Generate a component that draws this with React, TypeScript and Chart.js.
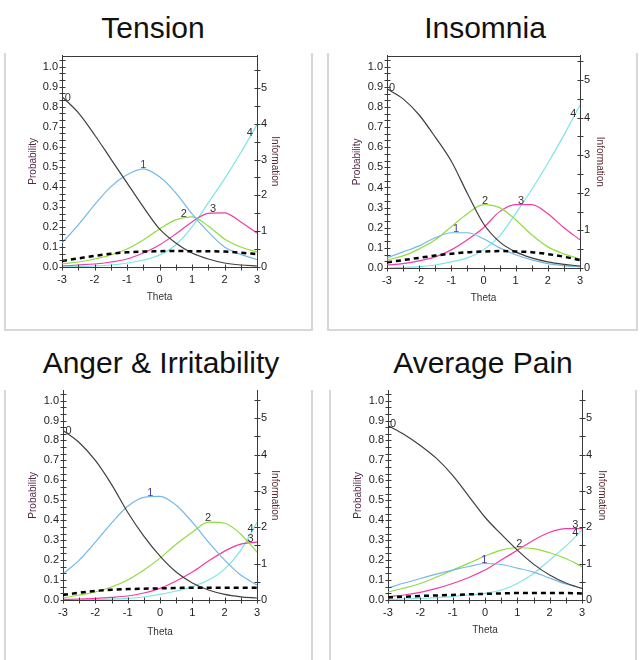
import React, { useEffect, useRef } from 'react';
import { Chart, registerables } from 'chart.js';

Chart.register(...registerables);

const FONT = '"Liberation Sans", Arial, Helvetica, sans-serif';

// ---------- data ----------
const theta = [-3, -2.5, -2, -1.5, -1, -0.5, 0, 0.5, 1, 1.5, 2, 2.5, 3];

// Tension
const tensionCat0 = [0.85, 0.77, 0.66, 0.54, 0.42, 0.30, 0.19, 0.12, 0.07, 0.04, 0.02, 0.01, 0.005];
const tensionCat1 = [0.12, 0.21, 0.31, 0.40, 0.46, 0.49, 0.45, 0.37, 0.265, 0.175, 0.10, 0.063, 0.037];
const tensionCat2 = [0.015, 0.025, 0.04, 0.06, 0.09, 0.135, 0.19, 0.235, 0.25, 0.205, 0.14, 0.10, 0.075];
const tensionCat3 = [0.005, 0.01, 0.015, 0.025, 0.04, 0.07, 0.11, 0.165, 0.225, 0.268, 0.27, 0.225, 0.17];
const tensionCat4 = [0.0, 0.002, 0.005, 0.01, 0.02, 0.035, 0.06, 0.11, 0.20, 0.32, 0.44, 0.57, 0.71];
const tensionInfo = [0.17, 0.24, 0.31, 0.37, 0.41, 0.43, 0.44, 0.45, 0.44, 0.44, 0.43, 0.40, 0.36];
const tensionLabelTheta = [-2.82, -0.5, 0.75, 1.65, 2.78];

// Insomnia
const insomniaCat0 = [0.89, 0.84, 0.76, 0.65, 0.53, 0.37, 0.22, 0.13, 0.08, 0.05, 0.03, 0.018, 0.01];
const insomniaCat1 = [0.05, 0.08, 0.11, 0.15, 0.175, 0.175, 0.145, 0.10, 0.066, 0.04, 0.022, 0.012, 0.006];
const insomniaCat2 = [0.04, 0.06, 0.095, 0.14, 0.205, 0.27, 0.315, 0.30, 0.24, 0.165, 0.105, 0.07, 0.045];
const insomniaCat3 = [0.015, 0.022, 0.035, 0.055, 0.09, 0.14, 0.20, 0.28, 0.315, 0.315, 0.27, 0.20, 0.14];
const insomniaCat4 = [0.0, 0.003, 0.007, 0.015, 0.03, 0.05, 0.09, 0.16, 0.27, 0.39, 0.52, 0.66, 0.81];
const insomniaInfo = [0.15, 0.21, 0.27, 0.33, 0.38, 0.42, 0.44, 0.45, 0.44, 0.42, 0.37, 0.30, 0.21];
const insomniaLabelTheta = [-2.84, -0.85, 0.05, 1.17, 2.79];

// Anger & Irritability
const angerCat0 = [0.85, 0.79, 0.70, 0.58, 0.44, 0.32, 0.22, 0.14, 0.085, 0.05, 0.028, 0.016, 0.01];
const angerCat1 = [0.13, 0.20, 0.29, 0.385, 0.47, 0.515, 0.52, 0.475, 0.39, 0.29, 0.20, 0.125, 0.075];
const angerCat2 = [0.01, 0.025, 0.04, 0.065, 0.10, 0.15, 0.21, 0.28, 0.34, 0.39, 0.385, 0.33, 0.24];
const angerCat3 = [0.003, 0.005, 0.008, 0.013, 0.02, 0.035, 0.058, 0.095, 0.14, 0.195, 0.245, 0.28, 0.29];
const angerCat4 = [0.0, 0.001, 0.002, 0.004, 0.008, 0.015, 0.028, 0.045, 0.067, 0.10, 0.155, 0.25, 0.39];
const angerInfo = [0.14, 0.20, 0.25, 0.28, 0.30, 0.31, 0.32, 0.33, 0.34, 0.34, 0.34, 0.34, 0.34];
const angerLabelTheta = [-2.83, -0.3, 1.49, 2.8, 2.8];

// Average Pain
const painCat0 = [0.875, 0.83, 0.775, 0.71, 0.625, 0.52, 0.415, 0.33, 0.25, 0.18, 0.125, 0.085, 0.058];
const painCat1 = [0.06, 0.085, 0.108, 0.13, 0.15, 0.168, 0.183, 0.178, 0.16, 0.14, 0.11, 0.08, 0.058];
const painCat2 = [0.04, 0.06, 0.083, 0.115, 0.15, 0.185, 0.22, 0.25, 0.262, 0.258, 0.237, 0.208, 0.167];
const painCat3 = [0.017, 0.025, 0.038, 0.058, 0.083, 0.113, 0.15, 0.20, 0.25, 0.30, 0.34, 0.358, 0.358];
const painCat4 = [0.003, 0.005, 0.008, 0.012, 0.018, 0.025, 0.033, 0.05, 0.083, 0.133, 0.20, 0.27, 0.35];
const painInfo = [0.07, 0.09, 0.11, 0.125, 0.14, 0.155, 0.17, 0.18, 0.19, 0.19, 0.19, 0.19, 0.18];
const painLabelTheta = [-2.84, -0.02, 1.06, 2.79, 2.79];

const categoryNames = ['0', '1', '2', '3', '4'];
const panelTitles = ['Tension', 'Insomnia', 'Anger & Irritability', 'Average Pain'];
const infoMaxima = [5.9, 5.65, 5.76, 5.76];
const probMaxima = [1.055, 1.055, 1.05, 1.05];

// ---------- styles ----------
const CAT_COLORS = ['#404040', '#72b9ea', '#90dd3e', '#ef3ca7', '#7ce6e6'];
const LABEL_COLORS = ['#333333', '#4a3c96', '#333333', '#333333', '#333333'];
const AXIS = '#3a3a3a';
const FRAME = '#d4d8d8';
const TICK_TEXT = '#222222';

type Rect = { l: number; r: number; t: number; b: number };
type PanelSpec = {
  title: string;
  titleX: number;
  titleBase: number;
  cats: number[][];
  info: number[];
  labelTheta: number[];
  infoMax: number;
  probMax: number;
  frame: Rect;
  plot: Rect;
  probTitleX: number;
  infoTitleX: number;
  thetaY: number;
  topLine: boolean;
};

const panels: PanelSpec[] = [
  {
    title: panelTitles[0], titleX: 153, titleBase: 38,
    cats: [tensionCat0, tensionCat1, tensionCat2, tensionCat3, tensionCat4], info: tensionInfo,
    labelTheta: tensionLabelTheta, infoMax: infoMaxima[0], probMax: probMaxima[0],
    frame: { l: 4, r: 313, t: 53, b: 331 }, plot: { l: 62, r: 257, t: 55, b: 267 },
    probTitleX: 33, infoTitleX: 275, thetaY: 297, topLine: true,
  },
  {
    title: panelTitles[1], titleX: 485, titleBase: 38,
    cats: [insomniaCat0, insomniaCat1, insomniaCat2, insomniaCat3, insomniaCat4], info: insomniaInfo,
    labelTheta: insomniaLabelTheta, infoMax: infoMaxima[1], probMax: probMaxima[1],
    frame: { l: 327, r: 638, t: 53, b: 331 }, plot: { l: 387, r: 580, t: 55, b: 268 },
    probTitleX: 357, infoTitleX: 600, thetaY: 298, topLine: true,
  },
  {
    title: panelTitles[2], titleX: 161, titleBase: 373,
    cats: [angerCat0, angerCat1, angerCat2, angerCat3, angerCat4], info: angerInfo,
    labelTheta: angerLabelTheta, infoMax: infoMaxima[2], probMax: probMaxima[2],
    frame: { l: 4, r: 313, t: 390, b: 700 }, plot: { l: 63, r: 257, t: 390, b: 600 },
    probTitleX: 33, infoTitleX: 275, thetaY: 632, topLine: false,
  },
  {
    title: panelTitles[3], titleX: 483, titleBase: 373,
    cats: [painCat0, painCat1, painCat2, painCat3, painCat4], info: painInfo,
    labelTheta: painLabelTheta, infoMax: infoMaxima[3], probMax: probMaxima[3],
    frame: { l: 329, r: 637, t: 390, b: 700 }, plot: { l: 388, r: 582, t: 390, b: 600 },
    probTitleX: 358, infoTitleX: 602, thetaY: 630, topLine: false,
  },
];

function interp(xs: number[], ys: number[], x: number) {
  for (let i = 0; i < xs.length - 1; i++) {
    if (x >= xs[i] && x <= xs[i + 1]) {
      const f = (x - xs[i]) / (xs[i + 1] - xs[i]);
      return ys[i] + f * (ys[i + 1] - ys[i]);
    }
  }
  return x < xs[0] ? ys[0] : ys[ys.length - 1];
}

const irtPlugin = {
  id: 'irtDecor',
  afterDraw(chart: any, _args: any, opts: any) {
    const ctx = chart.ctx as CanvasRenderingContext2D;
    const { left, right, top, bottom } = chart.chartArea;
    const xs = chart.scales.x;
    const yl = chart.scales.y;
    const yr = chart.scales.info;
    const L = 3;
    ctx.save();
    ctx.strokeStyle = AXIS;
    ctx.lineWidth = 1;
    ctx.beginPath();
    const bx = Math.round(bottom) + 0.5;
    for (const t of xs.ticks) {
      const px = Math.round(xs.getPixelForValue(t.value)) + 0.5;
      ctx.moveTo(px, bx - L);
      ctx.lineTo(px, bx + L);
    }
    const lx = Math.round(left) + 0.5;
    for (const t of yl.ticks) {
      const py = Math.round(yl.getPixelForValue(t.value)) + 0.5;
      ctx.moveTo(lx - L, py);
      ctx.lineTo(lx + L, py);
    }
    const rx = Math.round(right) + 0.5;
    for (const t of yr.ticks) {
      const py = Math.round(yr.getPixelForValue(t.value)) + 0.5;
      ctx.moveTo(rx - L, py);
      ctx.lineTo(rx + L, py);
    }
    if (opts.topLine) {
      const ty = Math.round(top) + 0.5;
      ctx.moveTo(lx, ty);
      ctx.lineTo(rx, ty);
    }
    ctx.stroke();

    ctx.font = `11px ${FONT}`;
    ctx.textAlign = 'center';
    ctx.textBaseline = 'middle';
    const labs: { text: string; cat: number; th: number }[] = opts.labels;
    for (const lb of labs) {
      const v = interp(theta, opts.cats[lb.cat], lb.th);
      const px = xs.getPixelForValue(lb.th);
      const py = yl.getPixelForValue(v) - 4;
      ctx.fillStyle = LABEL_COLORS[lb.cat];
      ctx.fillText(lb.text, px, py);
    }
    ctx.restore();
  },
};

function Panel({ p }: { p: PanelSpec }) {
  const ref = useRef<HTMLCanvasElement>(null);
  const cv = { l: p.frame.l + 2, r: p.frame.r - 2, t: p.plot.t - 10, b: Math.min(p.frame.b - 2, 660) };
  const W = cv.r - cv.l;
  const H = cv.b - cv.t;

  useEffect(() => {
    const leftW = p.plot.l - cv.l;
    const rightW = cv.r - p.plot.r;
    const xH = cv.b - p.plot.b;
    const padTop = p.plot.t - cv.t;
    const titleHalf = 6;

    const xTicks: number[] = [];
    for (let k = -6; k <= 6; k++) xTicks.push(k / 2);
    const yTicks: number[] = [];
    for (let k = 0; k <= Math.floor(p.probMax * 30 + 1e-9); k++) yTicks.push(k / 30);
    const infoTicks: number[] = [];
    for (let k = 0; k <= Math.floor(p.infoMax * 2 + 1e-9); k++) infoTicks.push(k / 2);

    const datasets: any[] = [
      {
        label: 'Information',
        data: theta.map((t, i) => ({ x: t, y: p.info[i] })),
        yAxisID: 'info',
        borderColor: '#000000',
        borderWidth: 2.5,
        borderDash: [5, 4],
        cubicInterpolationMode: 'monotone',
        pointRadius: 0,
        fill: false,
      },
      ...p.cats.map((vals, ci) => ({
        label: categoryNames[ci],
        data: theta.map((t, i) => ({ x: t, y: vals[i] })),
        yAxisID: 'y',
        borderColor: CAT_COLORS[ci],
        borderWidth: 1.2,
        cubicInterpolationMode: 'monotone',
        pointRadius: 0,
        fill: false,
      })),
    ];

    const tickFont = { family: FONT, size: 11 };
    const titleFont = { family: FONT, size: 10 };

    const chart = new Chart(ref.current as HTMLCanvasElement, {
      type: 'line',
      data: { datasets },
      plugins: [irtPlugin as any],
      options: {
        responsive: false,
        animation: false,
        devicePixelRatio: 1,
        events: [],
        layout: { padding: { top: padTop, left: 0, right: 0, bottom: 0 } },
        plugins: {
          legend: { display: false },
          tooltip: { enabled: false },
          irtDecor: {
            topLine: p.topLine,
            cats: p.cats,
            labels: categoryNames.map((n, ci) => ({ text: n, cat: ci, th: p.labelTheta[ci] })),
          },
        } as any,
        scales: {
          x: {
            type: 'linear',
            position: 'bottom',
            min: -3,
            max: 3,
            afterBuildTicks: (s: any) => { s.ticks = xTicks.map((v) => ({ value: v })); },
            afterFit: (s: any) => { s.height = xH; },
            grid: { display: false, drawTicks: false },
            border: { display: true, color: AXIS, width: 1 },
            ticks: {
              autoSkip: false,
              maxRotation: 0,
              padding: 6,
              color: TICK_TEXT,
              font: tickFont,
              callback: (v: any) => (Math.abs(v - Math.round(v)) < 1e-6 ? String(Math.round(v)) : ''),
            },
            title: {
              display: true,
              text: 'Theta',
              color: '#333333',
              font: titleFont,
              padding: { top: 0, bottom: cv.b - p.thetaY - titleHalf },
            },
          },
          y: {
            type: 'linear',
            position: 'left',
            min: 0,
            max: p.probMax,
            afterBuildTicks: (s: any) => { s.ticks = yTicks.map((v) => ({ value: v })); },
            afterFit: (s: any) => { s.width = leftW; },
            grid: { display: false, drawTicks: false },
            border: { display: true, color: AXIS, width: 1 },
            ticks: {
              autoSkip: false,
              padding: 4,
              color: TICK_TEXT,
              font: tickFont,
              callback: (v: any) => (Math.abs(v * 10 - Math.round(v * 10)) < 1e-6 ? (Math.round(v * 10) / 10).toFixed(1) : ''),
            },
            title: {
              display: true,
              text: 'Probability',
              color: '#52284a',
              font: titleFont,
              padding: { top: p.probTitleX - cv.l - titleHalf, bottom: 0 },
            },
          },
          info: {
            type: 'linear',
            position: 'right',
            min: 0,
            max: p.infoMax,
            afterBuildTicks: (s: any) => { s.ticks = infoTicks.map((v) => ({ value: v })); },
            afterFit: (s: any) => { s.width = rightW; },
            grid: { display: false, drawTicks: false },
            border: { display: true, color: AXIS, width: 1 },
            ticks: {
              autoSkip: false,
              padding: 4,
              color: TICK_TEXT,
              font: tickFont,
              callback: (v: any) => (Math.abs(v - Math.round(v)) < 1e-6 ? String(Math.round(v)) : ''),
            },
            title: {
              display: true,
              text: 'Information',
              color: '#552830',
              font: titleFont,
              padding: { top: cv.r - p.infoTitleX - titleHalf, bottom: 0 },
            },
          },
        },
      } as any,
    });
    return () => chart.destroy();
  }, []);

  return (
    <>
      <div
        style={{
          position: 'absolute',
          left: p.frame.l,
          top: p.frame.t,
          width: p.frame.r - p.frame.l,
          height: p.frame.b - p.frame.t,
          boxSizing: 'border-box',
          borderLeft: `2px solid ${FRAME}`,
          borderRight: `2px solid ${FRAME}`,
          borderBottom: `2px solid ${FRAME}`,
        }}
      />
      <div
        style={{
          position: 'absolute',
          left: p.titleX - 200,
          width: 400,
          top: p.titleBase - 25.4,
          textAlign: 'center',
          fontFamily: FONT,
          fontSize: 30,
          lineHeight: '30px',
          color: '#111111',
          whiteSpace: 'nowrap',
        }}
      >
        {p.title}
      </div>
      <canvas
        ref={ref}
        width={W}
        height={H}
        style={{ position: 'absolute', left: cv.l, top: cv.t, width: W, height: H }}
      />
    </>
  );
}

export default function App() {
  return (
    <div
      style={{
        position: 'absolute',
        left: 0,
        top: 0,
        width: 642,
        height: 660,
        overflow: 'hidden',
        background: '#ffffff',
      }}
    >
      {panels.map((p, i) => (
        <Panel key={i} p={p} />
      ))}
    </div>
  );
}
